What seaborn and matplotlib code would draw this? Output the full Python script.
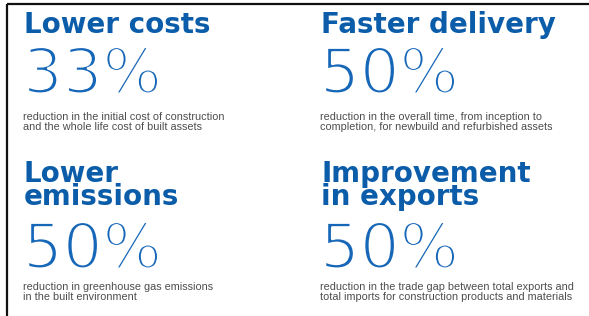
import matplotlib
matplotlib.use("Agg")
import matplotlib.pyplot as plt
import matplotlib.patheffects as pe
import seaborn as sns

sns.set_theme(style="white")
plt.rcParams['font.family'] = ['Liberation Sans', 'DejaVu Sans']

headlines = ["Lower costs", "Faster delivery", "Lower\nemissions", "Improvement\nin exports"]
values = [33, 50, 50, 50]
captions = [
    "reduction in the initial cost of construction\nand the whole life cost of built assets",
    "reduction in the overall time, from inception to\ncompletion, for newbuild and refurbished assets",
    "reduction in greenhouse gas emissions\nin the built environment",
    "reduction in the trade gap between total exports and\ntotal imports for construction products and materials",
]

W, H = 589, 316
fig = plt.figure(figsize=(W/100, H/100), dpi=100)
ax = fig.add_axes([0, 0, 1, 1])
ax.set_xlim(0, W)
ax.set_ylim(H, 0)
ax.axis("off")

blue = "#0b5ca9"
pct_blue = "#1767b8"
grey = "#4d4d4d"

# frame lines (top and left)
ax.plot([7, W], [4, 4], color="#111111", lw=1.6, solid_capstyle="butt")
ax.plot([7, 7], [4, H], color="#111111", lw=1.6, solid_capstyle="butt")

cols = [25, 322]
rows = [
    dict(head=33, pct=93, cap=119.5),
    dict(head=183, pct=268, cap=290.5),
]
thin = [pe.Normal(), pe.Stroke(linewidth=2.1, foreground="white")]

for i, (h, v, c) in enumerate(zip(headlines, values, captions)):
    x = cols[i % 2]
    r = rows[i // 2]
    n_head = h.count("\n")
    # multi-line text with va="baseline" anchors on its last line
    ax.text(x - 1, r["head"] + 22 * n_head, h, fontsize=20, fontweight="bold",
            linespacing=0.77, family=["DejaVu Sans"], color=blue,
            va="baseline", ha="left")
    ax.text(x - 2, r["pct"], f"{v}%", fontsize=45, fontweight="normal",
            family=["DejaVu Sans"], color=pct_blue, va="baseline", ha="left",
            path_effects=thin)
    ax.text(x - 2, r["cap"] + 10 * c.count("\n"), c, fontsize=7.8, color=grey,
            linespacing=1.0, va="baseline", ha="left")

fig.savefig("out.png", dpi=100)
